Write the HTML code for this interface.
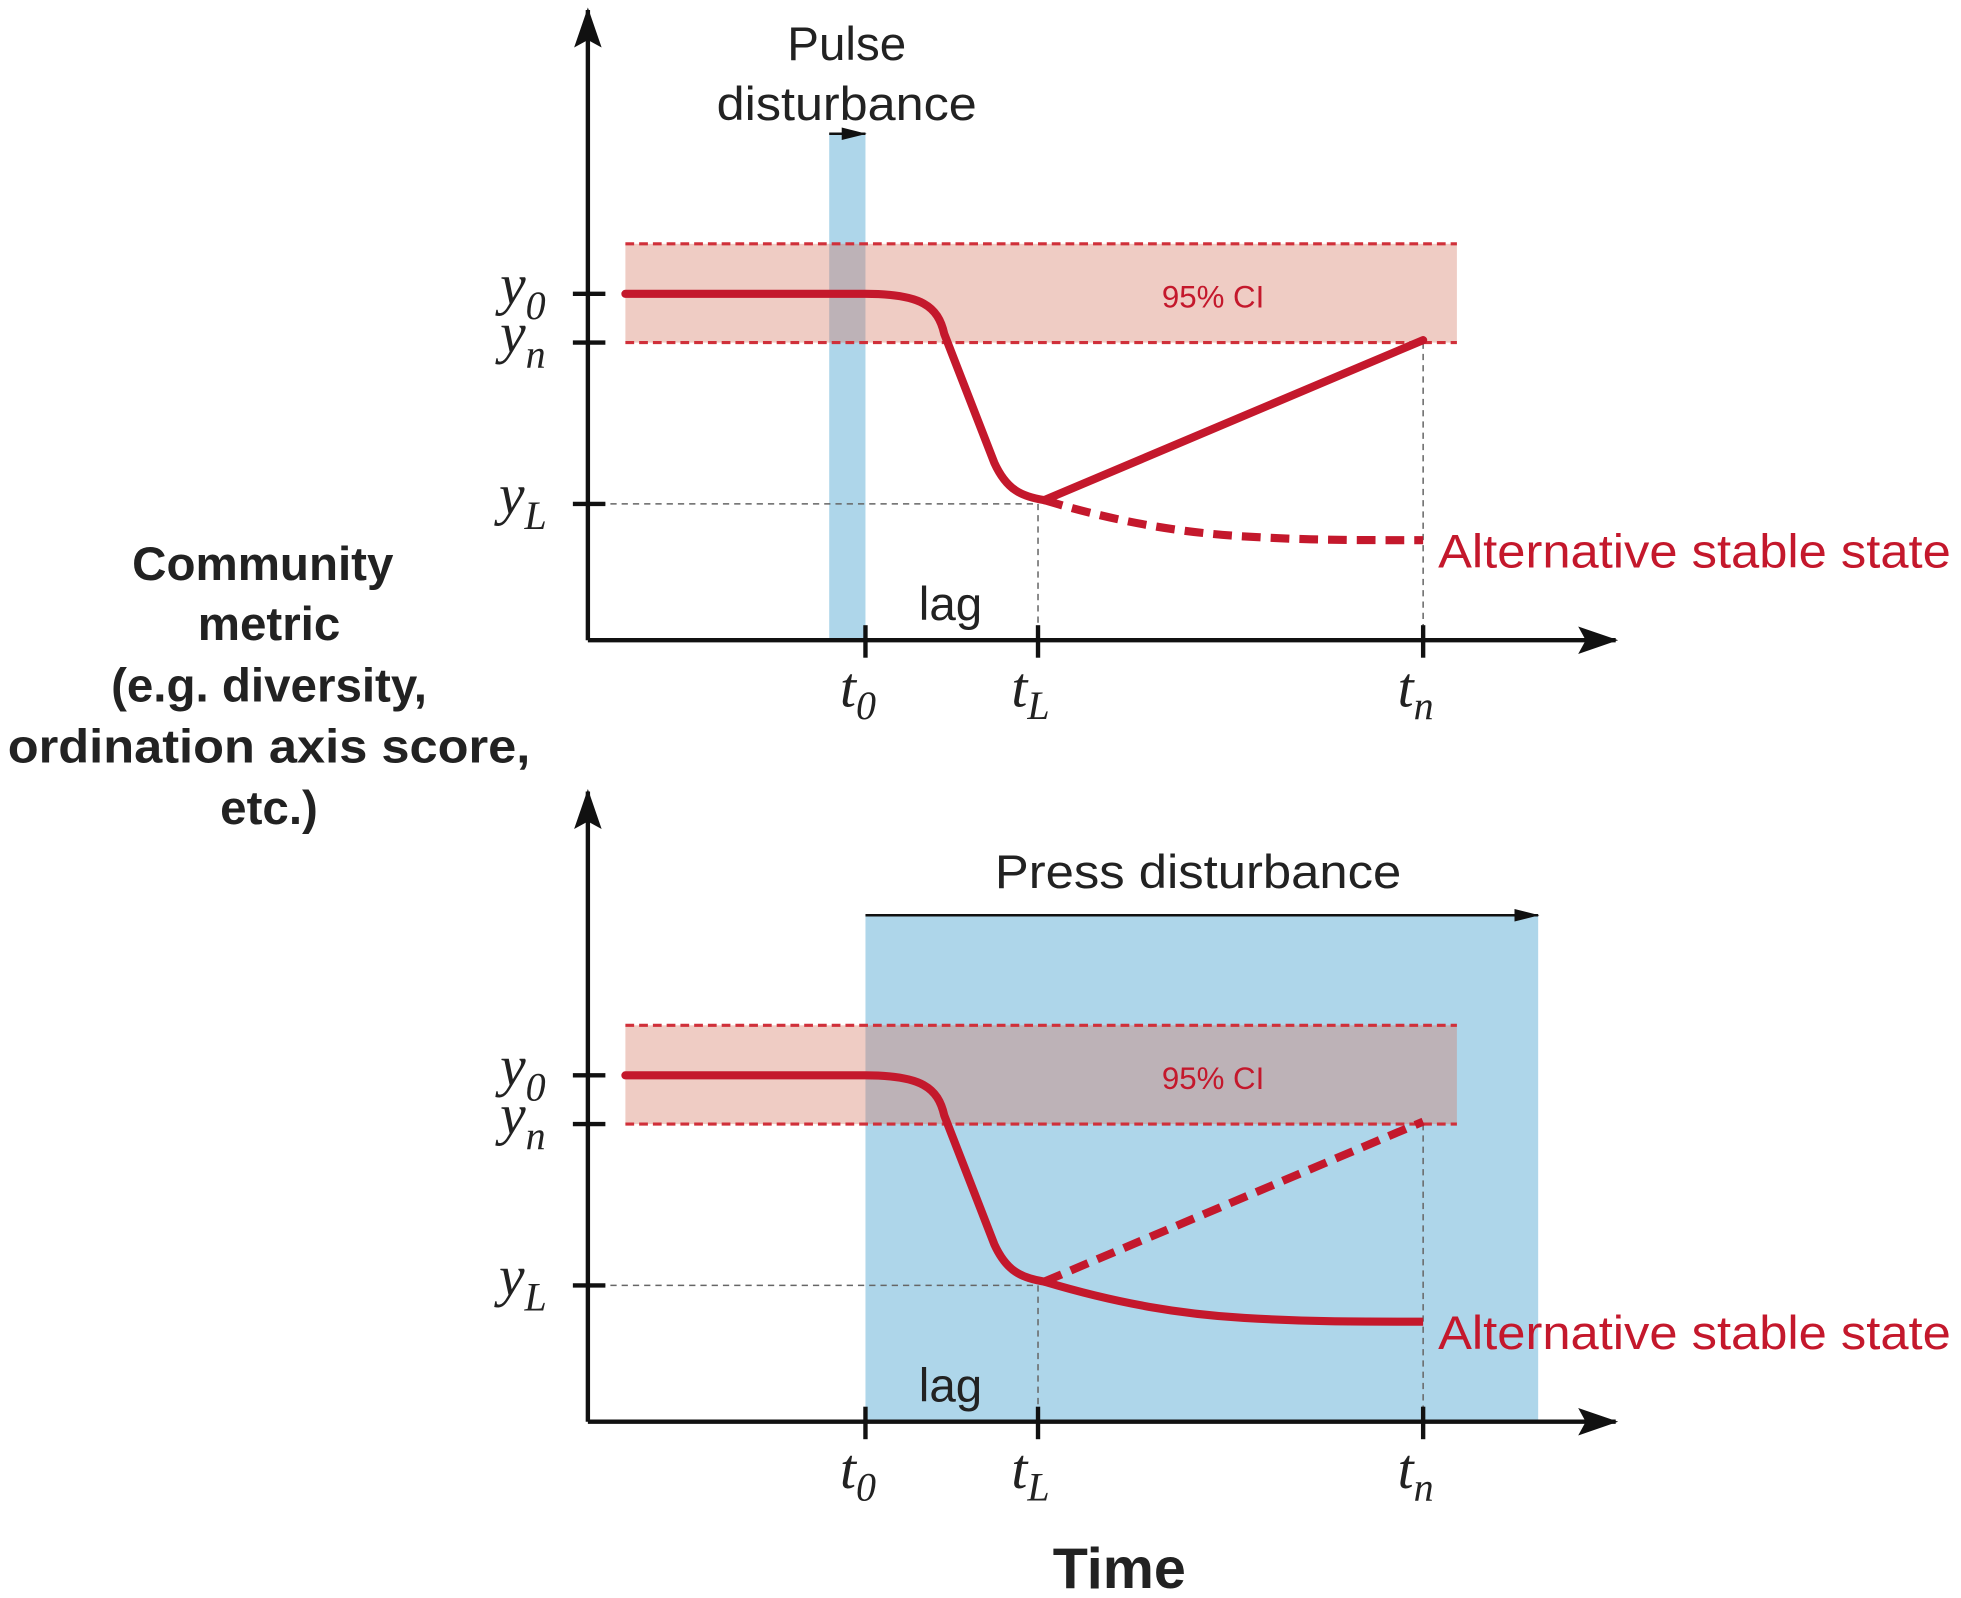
<!DOCTYPE html>
<html><head><meta charset="utf-8"><style>
html,body{margin:0;padding:0;background:#fff;}
svg{display:block;}
.lab{font-family:"Liberation Sans",sans-serif;}
.it{font-family:"Liberation Serif",serif;font-style:italic;}
</style></head><body>
<svg id="chart" width="1961" height="1598" viewBox="0 0 1568 1278" xmlns="http://www.w3.org/2000/svg">
<defs>
<marker id="ah" markerUnits="userSpaceOnUse" markerWidth="32" markerHeight="24" refX="30" refY="12" orient="auto"><path d="M0,1 L32,12 L0,23 L6,12 Z" fill="#111"/></marker>
<marker id="ahs" markerUnits="userSpaceOnUse" markerWidth="20" markerHeight="12" refX="19" refY="6" orient="auto"><path d="M0,1 L20,6 L0,11 Z" fill="#111"/></marker>
</defs>
<g id="panels"></g>
<text class="lab" x="215" y="464" text-anchor="middle" font-size="38" font-weight="bold" fill="#222">
<tspan x="210" dy="0">Community</tspan><tspan x="215" dy="48">metric</tspan><tspan x="215" dy="49">(e.g. diversity,</tspan><tspan x="215" dy="49" textLength="418" lengthAdjust="spacingAndGlyphs">ordination axis score,</tspan><tspan x="215" dy="49">etc.)</tspan></text>
<text class="lab" x="895" y="1270" text-anchor="middle" font-size="46" font-weight="bold" fill="#222">Time</text>
</svg>
<script>
// Data arrays
const tickNames = ["0","L","n"];
const tickX = [692, 830, 1138];           // time positions t0, tL, tn
const yTickNames = ["0","n","L"];
const yTickVals = [235, 274, 403];         // y0, yn, yL (panel-local)
const ciRange = [195, 274];
const startX = 500;
const lagEnd = [835, 400];
const recoverEnd = [1138, 272];
const altEnd = [1138, 432];
const panelOffsets = [0, 625];
const NS = "http://www.w3.org/2000/svg";
const root = document.getElementById('panels');
function mk(tag, attrs, parent){const e=document.createElementNS(NS,tag);for(const k in attrs)e.setAttribute(k,attrs[k]);(parent||root).appendChild(e);return e;}
const red="#c4182c";
panelOffsets.forEach((dy,pi)=>{
  const g=mk('g',{});
  
  
  const y0=yTickVals[0]+dy;
  if(pi===0){
    const b=mk('rect',{x:663,y:107,width:29,height:405,fill:'#aed6ea'},g);
    
    mk('line',{x1:663,y1:107,x2:692,y2:107,stroke:'#111','stroke-width':2,'marker-end':'url(#ahs)'},g);
    const t=mk('text',{x:677,y:48,'text-anchor':'middle','font-size':38,fill:'#222',class:'lab'},g);
    t.textContent='Pulse';
    const t2=mk('text',{x:677,y:96,'text-anchor':'middle','font-size':38,fill:'#222',class:'lab',textLength:208,lengthAdjust:'spacingAndGlyphs'},g);
    t2.textContent='disturbance';
  } else {
    const b=mk('rect',{x:692,y:732,width:538,height:405,fill:'#aed6ea'},g);
    
    mk('line',{x1:692,y1:732,x2:1230,y2:732,stroke:'#111','stroke-width':2,'marker-end':'url(#ahs)'},g);
    const t=mk('text',{x:958,y:710,'text-anchor':'middle','font-size':38,fill:'#222',class:'lab',textLength:325,lengthAdjust:'spacingAndGlyphs'},g);
    t.textContent='Press disturbance';
  }
  const ci=mk('rect',{x:500,y:ciRange[0]+dy,width:665,height:ciRange[1]-ciRange[0],fill:'rgba(214,120,100,0.38)'},g);
  
  ciRange.forEach(v=>mk('line',{x1:500,x2:1165,y1:v+dy,y2:v+dy,stroke:'#d0303a','stroke-width':2.5,'stroke-dasharray':'7,4'},g));
  const cit=mk('text',{x:970,y:246+dy,'text-anchor':'middle','font-size':25,fill:red,class:'lab'},g);
  cit.textContent='95% CI';
  const gy=yTickVals[2]+dy;
  mk('line',{x1:470,x2:tickX[1],y1:gy,y2:gy,stroke:'#666','stroke-width':1.2,'stroke-dasharray':'5,4'},g);
  mk('line',{x1:tickX[1],x2:tickX[1],y1:gy,y2:512+dy,stroke:'#666','stroke-width':1.2,'stroke-dasharray':'5,4'},g);
  mk('line',{x1:tickX[2],x2:tickX[2],y1:yTickVals[1]+dy,y2:512+dy,stroke:'#666','stroke-width':1.2,'stroke-dasharray':'5,4'},g);
  mk('line',{x1:470,y1:512+dy,x2:470,y2:8+dy,stroke:'#111','stroke-width':3.5,'marker-end':'url(#ah)'},g);
  mk('line',{x1:470,y1:512+dy,x2:1292,y2:512+dy,stroke:'#111','stroke-width':3.5,'marker-end':'url(#ah)'},g);
  yTickVals.forEach((v,i)=>{
    mk('line',{x1:458,x2:484,y1:v+dy,y2:v+dy,stroke:'#111','stroke-width':3.5},g);
    const t=mk('text',{x:418,y:v+dy+8,'text-anchor':'middle','font-size':46,fill:'#222',class:'it'},g);
    t.innerHTML='y<tspan font-size="32" dy="12">'+yTickNames[i]+'</tspan>';
    
  });
  tickX.forEach((x,i)=>{
    mk('line',{x1:x,x2:x,y1:500+dy,y2:526+dy,stroke:'#111','stroke-width':3.5},g);
    const t=mk('text',{x:x-6,y:565+dy,'text-anchor':'middle','font-size':46,fill:'#222',class:'it'},g);
    t.innerHTML='t<tspan font-size="32" dy="10">'+tickNames[i]+'</tspan>';
    
  });
  const lag=mk('text',{x:760,y:496+dy,'text-anchor':'middle','font-size':38,fill:'#222',class:'lab'},g);
  lag.textContent='lag';
  const lx=lagEnd[0], ly=lagEnd[1]+dy;
  const dDecl=`M${startX},${y0} L${tickX[0]},${y0} C${tickX[0]+45},${y0} ${tickX[0]+58},${y0+10} ${tickX[0]+63},${y0+32} L${lx-40},${ly-30} C${lx-30},${ly-8} ${lx-18},${ly-3} ${lx},${ly}`;
  const c=mk('path',{d:dDecl,fill:'none',stroke:red,'stroke-width':6.5,'stroke-linecap':'round','stroke-linejoin':'round'},g);
  
  const rec=mk('path',{d:`M${lx},${ly} L${recoverEnd[0]},${recoverEnd[1]+dy}`,fill:'none',stroke:red,'stroke-width':6.5,'stroke-dasharray':pi?'15,8':'none','stroke-linecap':pi?'butt':'round'},g);
  
  const ax=altEnd[0], ay=altEnd[1]+dy;
  const alt=mk('path',{d:`M${lx},${ly} C${lx+60},${ly+18} ${lx+110},${ay-6} ${lx+160},${ay-3} S${ax-60},${ay} ${ax},${ay}`,fill:'none',stroke:red,'stroke-width':6.5,'stroke-dasharray':pi?'none':'15,8'},g);
  
  const at=mk('text',{x:1150,y:ay+22,'font-size':38,fill:red,class:'lab',textLength:410,lengthAdjust:'spacingAndGlyphs'},g);
  at.textContent='Alternative stable state';
});
</script>
</body></html>
